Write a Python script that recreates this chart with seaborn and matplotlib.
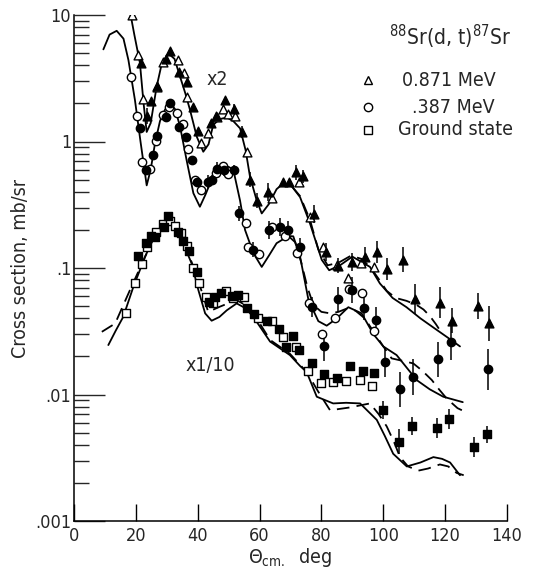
import numpy as np
import pandas as pd
import matplotlib
matplotlib.use('Agg')
import matplotlib.pyplot as plt
import seaborn as sns
from matplotlib.ticker import LogLocator, NullFormatter

# ---- measured points (plotted values, already scaled x2 and x1/10) ----
tri_open_x = [18.6, 20.8, 22.4, 26.7, 28.9, 33.5, 35.7, 36.6, 41.1, 43.4, 46.2, 48.1, 49.9, 52.2,
              55.8, 64.1, 72.7, 76.3, 80.6, 84.9, 88.5, 92.7, 97.1]
tri_open_y = [10.0, 4.83, 2.15, 2.68, 4.27, 4.41, 3.5, 2.26, 0.98, 1.16, 1.55, 1.80, 1.65, 1.59,
              0.826, 0.356, 0.48, 0.255, 0.147, 0.106, 0.083, 0.109, 0.101]
tri_fill_x = [21.6, 23.5, 24.9, 26.9, 29.7, 31.0, 34.1, 36.4, 38.6, 40.0, 44.2, 45.9, 48.8, 51.8,
              54.2, 56.9, 59.3, 62.8, 67.7, 69.6, 71.7, 73.9, 77.7, 81.5, 85.5, 89.8, 94.1, 98.1,
              101.2, 106.3, 110.1, 118.3, 122.3, 130.5, 134.3]
tri_fill_y = [4.15, 1.59, 2.1, 2.75, 4.47, 5.22, 3.56, 2.97, 1.88, 1.22, 1.39, 1.60, 2.12, 1.80,
              1.19, 0.50, 0.34, 0.40, 0.48, 0.48, 0.571, 0.53, 0.266, 0.134, 0.104, 0.112, 0.123, 0.134,
              0.098, 0.116, 0.0566, 0.0532, 0.0383, 0.050, 0.0365]
tri_fill_err = [0, 0.06, 0, 0, 0, 0, 0, 0, 0, 0, 0, 0, 0, 0.04,
                0.05, 0.06, 0.06, 0.07, 0, 0, 0.06, 0.05, 0.07, 0.07, 0.06, 0.07, 0.08, 0.09,
                0.09, 0.1, 0.12, 0.12, 0.1, 0.1, 0.14]

circ_open_x = [18.4, 20.5, 21.9, 24.6, 26.5, 28.7, 30.8, 33.2, 35.1, 37.0, 39.1, 41.1, 45.9, 48.1,
               49.7, 55.5, 56.4, 59.8, 63.9, 68.2, 72.2, 76.1, 80.3, 84.4, 88.9, 93.0, 97.0]
circ_open_y = [3.25, 1.60, 0.685, 0.61, 1.01, 1.62, 1.88, 1.69, 1.38, 0.88, 0.50, 0.414, 0.56, 0.64,
               0.55, 0.228, 0.147, 0.128, 0.21, 0.18, 0.131, 0.053, 0.030, 0.040, 0.068, 0.063, 0.032]
circ_fill_x = [21.3, 23.2, 25.6, 26.9, 29.7, 31.0, 34.1, 36.2, 38.0, 39.9, 43.4, 44.5, 46.1, 48.5,
               51.8, 53.5, 58.0, 63.0, 66.6, 69.3, 73.1, 76.8, 80.9, 85.5, 89.8, 93.8, 97.6, 100.4,
               105.4, 109.5, 117.8, 121.9, 134.0]
circ_fill_y = [1.27, 0.60, 0.78, 1.1, 1.57, 2.03, 1.31, 1.08, 0.72, 0.48, 0.48, 0.50, 0.61, 0.60,
               0.60, 0.27, 0.139, 0.20, 0.21, 0.20, 0.147, 0.049, 0.0243, 0.0566, 0.067, 0.0485, 0.039, 0.018,
               0.011, 0.0138, 0.019, 0.026, 0.0158]
circ_fill_err = [0, 0, 0, 0, 0, 0, 0, 0, 0, 0, 0.05, 0.04, 0.05, 0.05,
                 0.04, 0.06, 0.06, 0.07, 0.07, 0.07, 0.07, 0.08, 0.12, 0.1, 0.1, 0.1, 0.1, 0.12,
                 0.14, 0.14, 0.14, 0.14, 0.16]

sq_open_x = [16.8, 19.7, 21.9, 23.5, 26.5, 28.7, 31.0, 32.7, 34.5, 36.6, 38.6, 40.5, 42.7, 45.0,
             49.1, 51.5, 55.1, 59.6, 63.9, 67.5, 71.8, 75.8, 79.9, 83.8, 87.9, 92.5, 96.3]
sq_open_y = [0.0438, 0.0757, 0.107, 0.147, 0.194, 0.222, 0.235, 0.215, 0.19, 0.15, 0.0996, 0.0757, 0.0593, 0.053,
             0.066, 0.058, 0.059, 0.040, 0.038, 0.0286, 0.0238, 0.0154, 0.0124, 0.0126, 0.0127, 0.013, 0.0117]
sq_fill_x = [20.6, 23.2, 24.9, 26.2, 29.1, 30.3, 33.7, 35.1, 37.3, 39.9, 43.8, 45.6, 47.5, 51.0,
             53.1, 56.0, 58.2, 62.3, 66.4, 68.5, 70.7, 72.9, 76.8, 80.9, 84.9, 89.2, 93.3, 97.1,
             100.0, 105.2, 109.4, 117.3, 121.3, 129.3, 133.6]
sq_fill_y = [0.124, 0.157, 0.179, 0.175, 0.21, 0.259, 0.194, 0.164, 0.137, 0.093, 0.054, 0.059, 0.063, 0.060,
             0.0608, 0.048, 0.043, 0.0383, 0.0327, 0.0238, 0.029, 0.0224, 0.0177, 0.0144, 0.0136, 0.0169, 0.0153, 0.0147,
             0.0075, 0.00424, 0.00567, 0.0054, 0.0064, 0.00383, 0.00484]
sq_fill_err = [0, 0, 0, 0, 0, 0, 0, 0, 0, 0, 0, 0, 0, 0,
               0, 0, 0, 0, 0, 0, 0, 0, 0, 0, 0, 0, 0, 0,
               0.07, 0.1, 0.07, 0.08, 0.08, 0.08, 0.07]

# ---- theory curves ----
tri_solid_x = [18.0, 19.5, 21.3, 22.5, 23.5, 24.8, 26.7, 28.4, 30.5, 32.5, 34.3, 36.0, 37.5, 39.7, 41.8,
               43.5, 45.0, 47.0, 49.4, 51.5, 53.7, 55.5, 56.9, 59.1, 60.7, 63.0, 65.5, 67.7, 70.5, 73.1,
               76.3, 80.1, 82.5, 86.0, 90.0, 95.7, 98.9, 103.0, 107.5, 112.0, 117.3, 121.0, 124.8]
tri_solid_y = [11.0, 7.0, 4.2, 2.0, 1.19, 1.4, 2.7, 4.15, 4.97, 4.5, 3.25, 2.4, 1.78, 1.09, 0.83,
               0.95, 1.35, 1.5, 1.55, 1.45, 1.27, 0.85, 0.527, 0.34, 0.27, 0.32, 0.42, 0.467, 0.44, 0.363,
               0.225, 0.116, 0.096, 0.105, 0.123, 0.102, 0.0755, 0.058, 0.049, 0.04, 0.0324, 0.028, 0.024]
tri_dash_x = [70.5, 73.1, 76.3, 79.0, 82.0, 85.5, 89.5, 93.0, 96.0, 98.5, 101.1, 104.0, 107.5, 110.8,
              113.0, 115.1, 117.0, 118.9]
tri_dash_y = [0.44, 0.37, 0.24, 0.14, 0.105, 0.11, 0.125, 0.118, 0.1, 0.082, 0.066, 0.058, 0.055, 0.051,
              0.047, 0.0416, 0.036, 0.0306]

circ_solid_x = [9.5, 11.5, 13.8, 16.0, 17.6, 19.7, 21.5, 23.5, 24.8, 26.2, 27.8, 29.4, 31.0, 32.7, 34.3,
                36.4, 38.6, 40.7, 42.5, 44.5, 46.5, 48.3, 50.0, 51.5, 53.7, 55.3, 58.0, 60.7, 63.0, 65.5,
                69.3, 70.9, 73.1, 75.8, 79.0, 81.7, 85.0, 88.7, 93.0, 96.8, 100.0, 104.3, 110.8, 115.0,
                119.4, 125.7]
circ_solid_y = [5.35, 7.0, 7.5, 6.5, 4.4, 2.13, 1.0, 0.45, 0.6, 0.97, 1.45, 1.78, 2.0, 1.8, 1.31,
                0.714, 0.39, 0.305, 0.38, 0.50, 0.6, 0.64, 0.63, 0.6, 0.34, 0.2, 0.131, 0.102, 0.125, 0.157,
                0.179, 0.178, 0.123, 0.056, 0.038, 0.035, 0.040, 0.049, 0.0438, 0.030, 0.024, 0.0205, 0.013, 0.011,
                0.0096, 0.0087]
circ_dash_x = [69.3, 71.5, 73.5, 75.5, 77.4, 80.0, 82.8, 85.5, 88.2, 91.0, 94.0, 97.0, 100.0, 102.7,
               106.0, 109.7, 112.5, 115.7, 118.0, 120.5, 124.0, 127.5]
circ_dash_y = [0.179, 0.16, 0.11, 0.07, 0.051, 0.045, 0.0438, 0.045, 0.0478, 0.046, 0.04, 0.031, 0.024, 0.0193,
               0.0185, 0.0176, 0.0155, 0.013, 0.011, 0.0093, 0.0078, 0.0071]

sq_solid_x = [11.1, 13.5, 15.9, 19.2, 23.0, 26.7, 30.2, 34.3, 38.0, 40.2, 42.4, 44.5, 47.0, 49.4, 52.6,
              55.5, 58.0, 63.4, 69.8, 73.1, 75.2, 78.5, 83.8, 88.0, 92.5, 97.9, 100.5, 103.2, 107.6, 112.0,
              116.2, 119.0, 121.6, 124.8]
sq_solid_y = [0.0246, 0.032, 0.041, 0.071, 0.123, 0.194, 0.237, 0.18, 0.109, 0.067, 0.0438, 0.0383, 0.041,
              0.0463, 0.0525, 0.048, 0.041, 0.0262, 0.0205, 0.0168, 0.0151, 0.0096, 0.0085, 0.0086, 0.0085,
              0.0063, 0.0047, 0.0034, 0.0027, 0.0029, 0.0032, 0.0031, 0.0029, 0.0023]
sq_dash_x = [9.0, 13.3, 18.1, 23.0, 26.7, 30.2, 34.3, 38.0, 40.5, 43.4, 47.2, 51.0, 53.0, 56.0, 58.5,
             63.4, 69.8, 75.2, 79.0, 82.8, 86.0, 89.2, 92.5, 95.7, 98.5, 101.1, 103.5, 105.4, 108.0, 111.3,
             114.5, 118.3, 121.0, 123.7, 126.0]
sq_dash_y = [0.0313, 0.0364, 0.067, 0.123, 0.194, 0.237, 0.18, 0.112, 0.075, 0.045, 0.0495, 0.054, 0.055,
             0.05, 0.042, 0.027, 0.021, 0.0151, 0.0105, 0.0075, 0.0077, 0.0079, 0.0082, 0.0085, 0.007, 0.0056,
             0.0042, 0.0032, 0.0027, 0.0025, 0.0026, 0.0028, 0.0027, 0.0024, 0.0023]

y_ticks = [1e-3, 1e-2, 1e-1, 1, 10]
y_tick_labels = ['.001', '.01', '.1', '1', '10']
x_ticks = [0, 20, 40, 60, 80, 100, 120, 140]

sns.set_style('ticks')
plt.rcParams['font.family'] = ['DejaVu Sans']
plt.rcParams['font.stretch'] = 'condensed'
plt.rcParams['mathtext.fontset'] = 'custom'
plt.rcParams['mathtext.rm'] = 'DejaVu Sans:stretch=condensed'

fig = plt.figure(figsize=(5.37, 5.75), dpi=100)
ax = fig.add_axes([74 / 537, 54 / 575, 433 / 537, 506 / 575])

# theory curves
curves = [(tri_solid_x, tri_solid_y, '-'), (tri_dash_x, tri_dash_y, (0, (7, 4))),
          (circ_solid_x, circ_solid_y, '-'), (circ_dash_x, circ_dash_y, (0, (7, 4))),
          (sq_solid_x, sq_solid_y, '-'), (sq_dash_x, sq_dash_y, (0, (7, 4)))]
for cx, cy, ls in curves:
    sns.lineplot(x=cx, y=cy, ax=ax, color='black', lw=1.3, linestyle=ls,
                 sort=False, estimator=None)

# error bars on filled points
for fx, fy, fe in [(tri_fill_x, tri_fill_y, tri_fill_err),
                   (circ_fill_x, circ_fill_y, circ_fill_err),
                   (sq_fill_x, sq_fill_y, sq_fill_err)]:
    fy = np.array(fy)
    fe = np.array(fe)
    lo = fy - fy / 10 ** fe
    hi = fy * 10 ** fe - fy
    ax.errorbar(fx, fy, yerr=[lo, hi], fmt='none', ecolor='black', elinewidth=1.1, capsize=0)

# markers
sets = [(tri_open_x, tri_open_y, '^', 'white', 40),
        (tri_fill_x, tri_fill_y, '^', 'black', 40),
        (circ_open_x, circ_open_y, 'o', 'white', 36),
        (circ_fill_x, circ_fill_y, 'o', 'black', 36),
        (sq_open_x, sq_open_y, 's', 'white', 30),
        (sq_fill_x, sq_fill_y, 's', 'black', 30)]
for mx, my, mk, fc, s in sets:
    sns.scatterplot(x=mx, y=my, ax=ax, marker=mk, s=s, color=fc, edgecolor='black',
                    linewidth=1.0, zorder=3)

ax.set_yscale('log')
ax.set_xlim(0, 140)
ax.set_ylim(1e-3, 10)
ax.set_xticks(x_ticks)
ax.set_xticklabels([str(t) for t in x_ticks], fontsize=13)
ax.set_yticks(y_ticks)
ax.set_yticklabels(y_tick_labels, fontsize=13)
ax.yaxis.set_minor_locator(LogLocator(base=10, subs=np.arange(2, 10)))
ax.yaxis.set_minor_formatter(NullFormatter())
ax.tick_params(axis='x', direction='in', length=12, width=1, pad=4, color='black')
ax.tick_params(axis='y', which='major', direction='in', length=22, width=1, pad=2)
ax.tick_params(axis='y', which='minor', direction='in', length=11, width=1)
sns.despine(ax=ax)
for sp in ['left', 'bottom']:
    ax.spines[sp].set_color('black')
    ax.spines[sp].set_linewidth(1.1)

ax.set_ylabel('Cross section, mb/sr', fontsize=14, labelpad=4)
ax.set_xlabel(r'$\Theta_{\rm cm.}$  deg', fontsize=14, labelpad=1)

# annotations
ax.text(0.868, 0.957, r'$^{88}$Sr(d, t)$^{87}$Sr', transform=ax.transAxes, fontsize=15,
        ha='center', va='center')
ax.text(0.330, 0.872, 'x2', transform=ax.transAxes, fontsize=14, ha='center', va='center')
ax.text(0.314, 0.308, 'x1/10', transform=ax.transAxes, fontsize=14, ha='center', va='center')

# legend
leg_mk = ['^', 'o', 's']
leg_y = [0.871, 0.818, 0.773]
leg_txt = ['0.871 MeV', '.387 MeV', 'Ground state']
leg_tx = [0.757, 0.781, 0.748]
for mk, yy, t, tx in zip(leg_mk, leg_y, leg_txt, leg_tx):
    ax.plot([0.679], [yy], marker=mk, ms=6, mfc='white', mec='black', mew=1.0,
            transform=ax.transAxes, clip_on=False)
    ax.text(tx, yy, t, transform=ax.transAxes, fontsize=14, ha='left', va='center')

fig.savefig('out.png', dpi=100)
